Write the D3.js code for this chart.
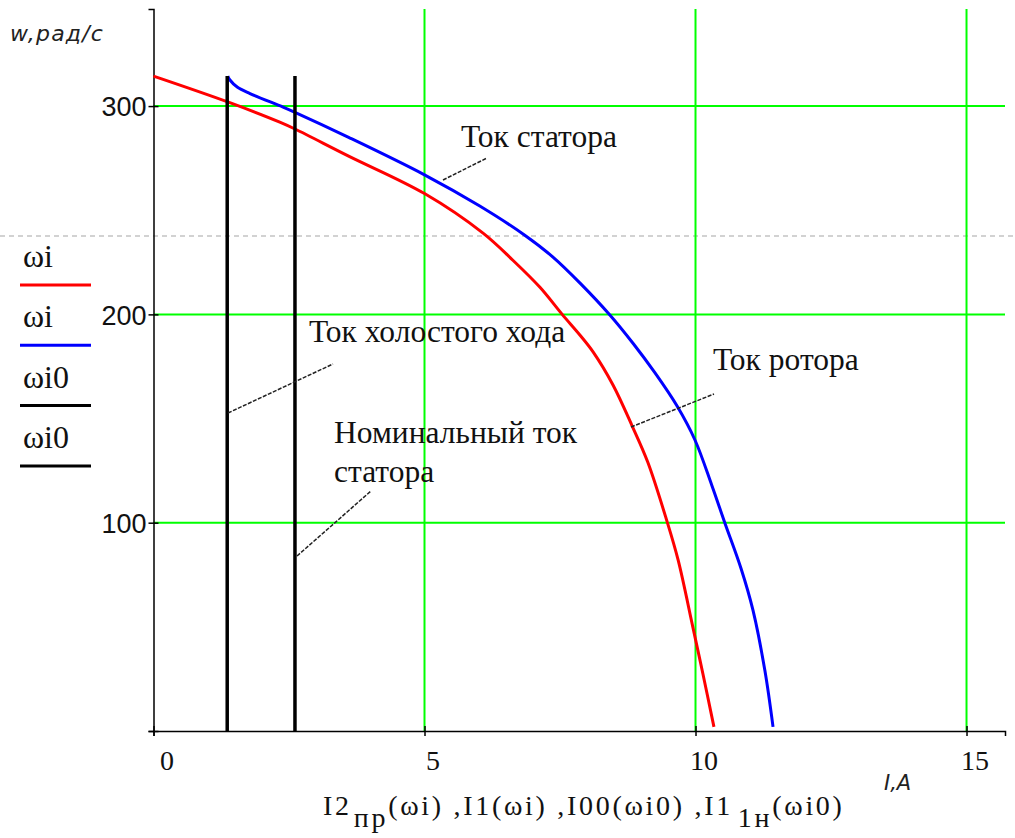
<!DOCTYPE html>
<html>
<head>
<meta charset="utf-8">
<script src="https://cdn.jsdelivr.net/npm/d3@7"></script>
<style>
  body { margin: 0; background: #fff; }
  svg { display: block; }
  .serif { font-family: 'Liberation Serif', 'Times New Roman', serif; fill: #111; }
</style>
</head>
<body>
<svg id="chart" width="1015" height="838"></svg>
<script>
// rotor current I2пр (red) vs angular speed
const rotorCurrent = [0, 1.37, 2.33, 2.61, 3.6, 5.0, 6.08, 6.63, 7.13, 7.54, 7.87, 8.11, 8.48, 8.83, 9.12, 9.47, 9.68, 9.95, 10.14, 10.34]
const rotorOmega = [314.4, 302, 292.3, 289, 276, 258, 239, 226, 213, 200, 190, 182, 166, 146.5, 129, 101, 82, 50, 27, 2]

// stator current I1 (blue)
const statorCurrent = [1.37, 1.41, 1.55, 1.78, 2.39, 2.61, 3.6, 5.0, 6.02, 6.85, 7.37, 7.87, 8.42, 8.85, 9.25, 9.66, 9.99, 10.3, 10.54, 10.84, 11.06, 11.28, 11.43]
const statorOmega = [314.4, 312.5, 309, 306, 299.5, 297, 285, 267, 252, 238, 227.5, 215, 199.7, 186, 172, 156, 139.7, 118, 100, 78, 58, 29, 2]

// no-load current I00 and rated stator current I1н (black verticals)
const idleCurrents = [1.36, 2.61]
const idleOmega = [0, 314.4]

const xTicks = [0, 5, 10, 15]
const yTicks = [0, 100, 200, 300]
const legendLabels = ['ωi', 'ωi', 'ωi0', 'ωi0']
const legendColors = ['#ff0000', '#0000ff', '#000000', '#000000']

const svg = d3.select('#chart')

const x = d3.scaleLinear().domain([0, 15.71]).range([153.5, 1005])
const y = d3.scaleLinear().domain([0, 346.6]).range([731, 9])

// region separator (dashed) across the page
svg.append('line')
  .attr('x1', 0).attr('x2', 1015)
  .attr('y1', 236).attr('y2', 236)
  .attr('stroke', '#c4c4c4')
  .attr('stroke-width', 1.5)
  .attr('stroke-dasharray', '5,4')

// green grid
const grid = svg.append('g').attr('stroke', '#00ff00').attr('stroke-width', 2)
grid.selectAll('.vg')
  .data(xTicks.filter(d => d > 0))
  .enter().append('line')
  .attr('x1', d => x(d)).attr('x2', d => x(d))
  .attr('y1', y(0)).attr('y2', y.range()[1])
grid.selectAll('.hg')
  .data(yTicks.filter(d => d > 0))
  .enter().append('line')
  .attr('x1', x(0)).attr('x2', x.range()[1])
  .attr('y1', d => y(d)).attr('y2', d => y(d))

// axes
const gx = svg.append('g')
  .attr('transform', 'translate(0,' + y(0) + ')')
  .call(d3.axisBottom(x).tickValues(xTicks).tickSizeOuter(0).tickSize(5).tickFormat(d3.format('d')))
gx.select('.domain').attr('stroke-width', 1.5)
gx.selectAll('.tick line').attr('y1', -5).attr('y2', 5).attr('stroke-width', 1.5)
gx.selectAll('.tick text')
  .attr('class', 'serif')
  .attr('y', 39)
  .attr('dy', 0)
  .attr('dx', d => d === 0 ? 13 : 8)
  .style('font-size', '28px')
  .attr('fill', '#111')

const gy = svg.append('g')
  .attr('transform', 'translate(' + x(0) + ',0)')
  .call(d3.axisLeft(y).tickValues(yTicks).tickSizeOuter(0).tickSize(5).tickFormat(d => d === 0 ? '' : d))
gy.select('.domain').attr('stroke-width', 1.5)
gy.selectAll('.tick line').attr('x1', -5).attr('x2', 5).attr('stroke-width', 1.5)
gy.selectAll('.tick text')
  .attr('x', -7)
  .attr('dy', '0.36em')
  .style('font-family', "'Liberation Sans', Arial, sans-serif")
  .style('font-size', '27px')
  .attr('fill', '#111')

// curves
const line = d3.line().x(d => x(d[0])).y(d => y(d[1])).curve(d3.curveCatmullRom.alpha(0.5))
svg.append('path')
  .datum(d3.zip(rotorCurrent, rotorOmega))
  .attr('d', line)
  .attr('fill', 'none').attr('stroke', '#ff0000').attr('stroke-width', 3)
svg.append('path')
  .datum(d3.zip(statorCurrent, statorOmega))
  .attr('d', line)
  .attr('fill', 'none').attr('stroke', '#0000ff').attr('stroke-width', 3)
svg.selectAll('.idle')
  .data(idleCurrents)
  .enter().append('path')
  .attr('d', c => d3.line().x(d => x(d[0])).y(d => y(d[1]))(idleOmega.map(w => [c, w])))
  .attr('fill', 'none').attr('stroke', '#000').attr('stroke-width', 3.5)

// legend
const lg = svg.selectAll('.lg')
  .data(legendLabels)
  .enter().append('g')
  .attr('transform', (d, i) => 'translate(20,' + (285 + i * 60.3) + ')')
lg.append('line')
  .attr('x1', 0).attr('x2', 71)
  .attr('stroke', (d, i) => legendColors[i])
  .attr('stroke-width', 3)
lg.append('text')
  .attr('class', 'serif')
  .attr('x', 3).attr('y', -18)
  .style('font-size', '32px')
  .text(d => d)

// axis titles
svg.append('text')
  .attr('x', 10).attr('y', 41)
  .style('font-family', "'DejaVu Sans', sans-serif")
  .style('font-style', 'italic')
  .style('font-size', '22px')
  .style('letter-spacing', '1.2px')
  .attr('fill', '#222')
  .text('w,рад/с')
svg.append('text')
  .attr('x', 884).attr('y', 790)
  .style('font-family', "'DejaVu Sans', sans-serif")
  .style('font-style', 'italic')
  .style('font-size', '21px')
  .attr('fill', '#222')
  .text('I,A')

const title = svg.append('text')
  .attr('class', 'serif')
  .attr('x', 323).attr('y', 815)
  .style('font-size', '28px')
  .style('letter-spacing', '2.7px')
title.append('tspan').text('I2')
title.append('tspan').attr('dy', 12).attr('dx', 2).text('пр')
title.append('tspan').attr('dy', -12).text('(ωi) ,I1(ωi) ,I00(ωi0) ,I1')
title.append('tspan').attr('dy', 12).attr('dx', 6).text('1н')
title.append('tspan').attr('dy', -12).text('(ωi0)')

// annotations with leader lines
const notes = [
  { lines: ['Ток статора'], tx: 461, ty: 147, from: [443, 180], to: [487, 158] },
  { lines: ['Ток холостого хода'], tx: 309, ty: 342, from: [228, 413], to: [333, 364] },
  { lines: ['Номинальный ток', 'статора'], tx: 334, ty: 443, from: [297, 556], to: [371, 491] },
  { lines: ['Ток ротора'], tx: 713, ty: 370, from: [631, 427], to: [714, 394] }
]
notes.forEach(n => {
  svg.append('line')
    .attr('x1', n.from[0]).attr('y1', n.from[1])
    .attr('x2', n.to[0]).attr('y2', n.to[1])
    .attr('stroke', '#222').attr('stroke-width', 1.5)
    .attr('stroke-dasharray', '4,1.5')
  n.lines.forEach((t, i) => {
    svg.append('text')
      .attr('class', 'serif')
      .attr('x', n.tx).attr('y', n.ty + i * 39)
      .style('font-size', '31.5px')
      .text(t)
  })
})
</script>
</body>
</html>
